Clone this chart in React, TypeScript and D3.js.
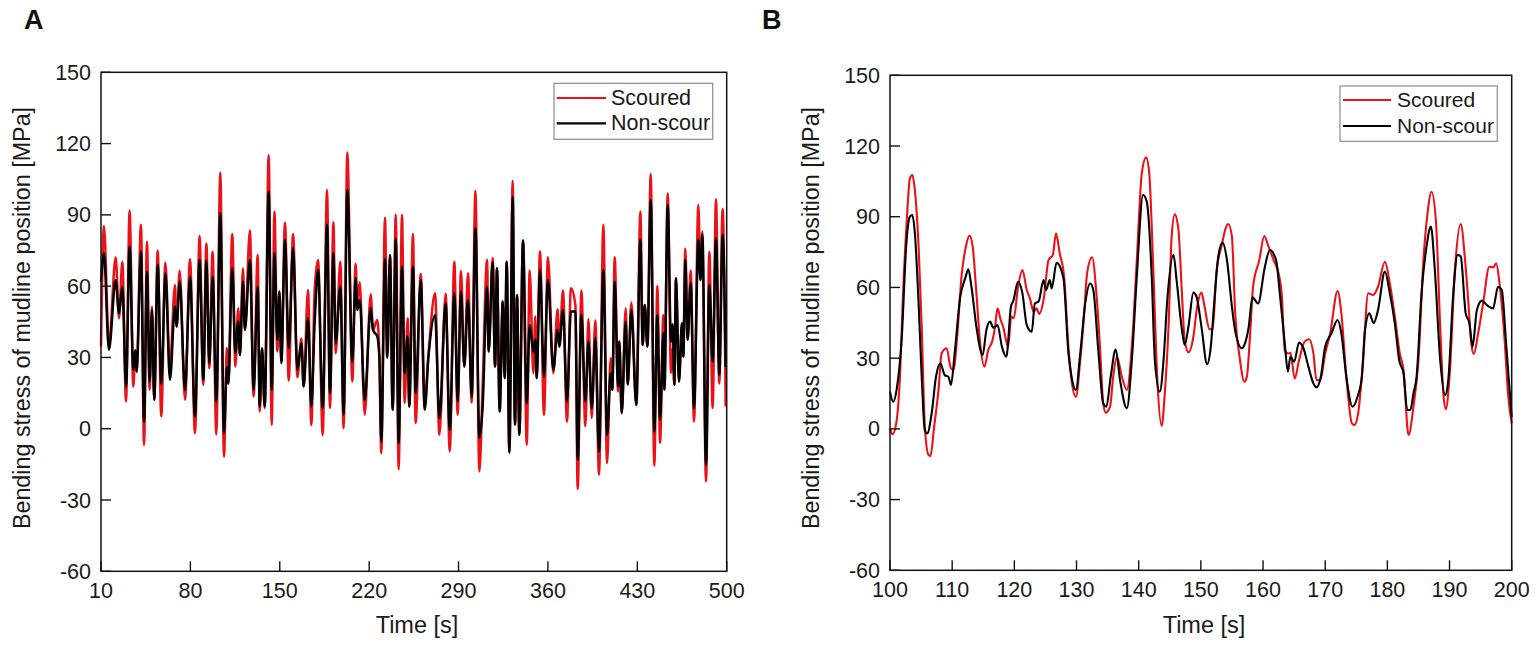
import React from "react";
import * as d3 from "d3";

const yTicks = [-60, -30, 0, 30, 60, 90, 120, 150];
const xTicksA = [10, 80, 150, 220, 290, 360, 430, 500];
const xTicksB = [100, 110, 120, 130, 140, 150, 160, 170, 180, 190, 200];
const seriesNames = ["Scoured", "Non-scour"];
const xTitle = "Time [s]";
const yTitle = "Bending stress of mudline position [MPa]";

const timeA = [10,12.3,16.2,21.5,24.1,26.7,29.6,32.4,35.3,36.9,37.9,41.3,43.7,46,48.1,49.9,51.7,54.4,57.2,60.4,64,67.9,69.2,71.6,75.8,79.7,83.6,87.2,90.1,92.5,94.8,97.4,100.3,103.4,106.3,108.6,109.7,112.8,115.2,117.5,118.8,121.2,122.7,126.6,129.5,132.7,134.3,136.1,138.2,141.3,143.7,145.8,148.1,149.7,151.2,154.1,157,160.4,163.8,166.9,168.7,172.1,174.7,177.3,180,183.6,187,189.3,192,193.8,197.4,200,202.9,206.8,209.4,210.7,212.6,216.5,221.2,223,226.4,228,229.5,232.4,234.2,236.3,238.4,240.8,243.1,245.7,247.8,250.1,251.4,254.3,256.4,260.4,263.5,266.4,271.6,275,279.9,283.1,286.7,289.3,291.9,294.5,297.4,300.3,303.2,306.3,308.9,312.3,313.6,316.7,318.6,320.1,322.2,324.6,326.1,327.7,329.8,332.4,334.2,335.8,337.6,340.5,343.4,345.7,348.6,350.1,351.2,353.8,356.9,360,364.2,367.6,368.9,371.8,374.9,378,381.5,383.3,386.2,389.3,391.7,394.3,397.1,400,403.4,406.3,409.1,410.4,412.3,414.9,415.9,417.8,420.9,422.5,425.3,429.2,432.4,434.2,435.8,437.9,440.5,443.3,445.7,447.8,450.4,451.2,453.8,456.4,457.7,459,460.3,462.6,465,466,467.6,469.4,471.8,474.4,477.8,479.4,480.9,483.8,486.4,489,491.6,494.2,496.8,499.2];
const scouredA = [34.6,85.3,35.3,72.2,46.5,70.3,11.5,91.8,17.8,33,24,85.8,-6.8,78.7,16.4,51.4,12.2,75,5.2,69.9,26.2,60.5,43,66.5,12.2,71.3,-1.9,81.1,18.5,78,25.5,74.5,-2.3,107.8,-11.7,33.9,19,82,26.2,50.7,31,67.5,41.6,83.4,13.6,73.1,7.3,33.9,8.7,115.2,1.6,91.4,32.5,57.7,29,86.7,20.3,82,21.7,38,17.8,58.4,1.6,58.4,71,-2.6,100.5,8.7,86.9,31.8,70.3,0.2,116.2,19.9,69.4,53,61.6,5.9,56.6,41.6,45.8,30,-10.3,88.8,30,73,8,90,-17,90,10.8,46.5,9.4,82,2.4,65.2,10.8,31,57,-2.5,56.8,-9.5,70.3,5.9,66.4,26.2,65.4,11,100.2,-18,18.5,71,32.5,71.8,26.2,67.5,7.3,53.5,21.3,70.3,-10,104.4,1.7,56.3,-2.5,79.2,-6.7,66.6,23.4,47.2,21.3,74.6,5.9,72.2,23.4,50.3,34.6,58.2,3,59.1,52,-25.4,58.2,1,46.2,4.5,45.5,-19.4,85.8,-14.5,29.7,16.4,72.2,15.7,36.7,6.6,50.7,18.5,53.1,10,91.4,35.3,52.1,34.6,107.2,-15.6,60.1,-6,47.9,16.4,99,23.4,34,18.5,63.3,19.9,44.4,30.4,75.7,37.4,66.6,3,94.2,62.6,83,-22.2,74.5,8.7,96.6,19,92.5,9.4];
const nonScourA = [62,73.8,33.2,62.6,48.6,59.8,17.8,76.6,24.8,33,24,74.5,3,66,19.9,50,12.2,69,19,65.4,20.6,51.4,43,61.9,16.4,64,5.2,71,20.6,70.8,27.6,64,11.5,90.7,-1.9,26,19,67.5,31.8,45.1,31,61.9,41.6,71,16.4,59.8,9.4,33.9,9.4,99.8,16.4,73.8,37.4,57.7,27.6,79.4,33.9,76,24.8,36,17.8,46.5,9.4,44.4,66.8,8.7,85.8,15,73.8,36,59.8,5.9,100.5,28.3,63.3,50,54.2,12.2,50.7,41.6,38.8,30,-5.4,71.3,30,73.1,8,80.1,-6,68.2,23.4,38.8,9.4,68.2,15,62.6,8,30,47.9,4.5,52.8,-0.4,57,11.5,57.7,26.2,54.2,13.6,84.4,-3.9,9.4,59.8,32.5,70,26.2,67.5,7.3,53.5,21.3,70.3,-10,97.7,1.7,56.3,-2.5,79.2,10.8,43.7,32.5,37.4,21.3,66.9,22,62.6,24.8,41.6,34.6,50,11.5,49.3,49.3,-13,47.9,11.5,36.7,8.7,38.1,-9.6,66.8,-2.5,23.4,16.4,61.9,17.8,36.7,6.6,45.1,18.5,50,10,79.5,35.3,52.1,34.6,96.3,-1.1,47.9,3.8,40.2,16.4,94.2,36.7,44,18.5,63.3,19.9,44.4,30.4,71,37.4,61.2,8.7,79.5,62.6,81.6,-15.2,60.5,28.3,80.2,22.7,81.6,26];

const timeBScoured = [100,100.4,101,101.6,102.1,102.7,103.2,103.6,104,104.6,105.1,105.6,106.2,106.5,107.1,107.8,108.3,109.1,109.8,110.2,110.8,111.5,112.2,112.8,113.3,113.9,114.5,115.2,115.8,116.5,116.9,117.3,117.8,118.2,119,119.5,119.9,120.6,121.3,122,122.5,123.1,123.6,124,124.7,125.5,126.2,126.7,127.3,128,128.7,129.2,129.9,130.6,131.2,131.7,132.5,133.2,133.8,134.3,134.7,135.4,135.9,136.5,137.3,138.1,138.9,139.7,140.5,141.2,141.7,142.3,143,143.7,144.2,144.8,145.3,145.8,146.4,146.9,147.4,148,148.8,149.4,150.1,150.6,151.4,151.9,152.5,153.3,154.4,155,155.5,156.3,157,157.4,157.9,158.4,159.4,160.2,160.8,161.7,162.5,163,163.5,164.1,164.4,165.1,165.8,166.7,167.4,168.1,168.6,169.2,170,170.8,172,172.6,173.4,174.3,174.7,175.3,176.1,176.9,177.7,178.5,179.6,180.4,181.2,182,182.6,183.4,184.2,185,185.8,186.4,187.1,187.8,188.5,189,189.4,190,190.9,191.8,192.5,193,193.5,193.9,194.6,195.4,196.4,197,197.5,198.1,198.9,199.4,200];
const scouredB = [0.2,-2.2,2.3,22.1,57.5,88.6,106.3,107.7,101.3,77.3,43.3,0.9,-11.1,-11.5,0.9,16.5,32,34.2,25.7,25,39.1,64.6,77.3,82,77.3,57.5,36.3,26.4,33.4,37.7,43.3,51.1,46.2,43.3,34.9,47.6,46.9,60.3,67.4,58.9,55.4,49.7,51.1,48.7,54.7,71.6,73.8,83,74.5,64.6,34.9,20.7,13.6,29.2,47.6,66,72.8,57.5,33.4,10.8,6.9,9.4,22.1,30.6,22.1,16.5,34.9,71.6,108.4,115.2,108.4,71.6,20.7,1.3,15.1,43.3,81.5,91,84.4,60.3,37.7,32.5,39.1,51.8,57.8,51.8,42.2,42.6,66,77.3,86.9,81.5,50.4,29.2,20,22.1,39.1,60.3,71.6,81.8,78,71.6,66,57.5,33.4,32,32.3,21.4,29.2,37,38,32,20.7,20.7,32,40.5,58.5,49,22.1,2.3,1.6,6.6,29.2,57.5,56.8,60.3,70.9,61.7,47.6,32,25,-2.6,9.4,29.2,71.6,90,100.6,88.6,43.3,15.1,8.3,22.1,68.8,86.9,71.6,54.7,36.3,31.8,40.5,53.2,68.8,68.5,70.2,60.3,36.3,15.1,2.3];
const timeBNonScour = [100,100.5,101.1,101.9,102.6,103.2,103.6,104,104.6,105.1,105.6,106,106.7,107.4,108.1,108.8,109.4,109.8,110.4,111.3,112.1,112.6,113.1,113.9,114.9,115.5,116.1,116.6,117.3,118,118.7,119.5,119.8,120.6,121.3,122,122.8,123.3,123.9,124.7,125.1,125.7,126,126.8,127.9,128.7,129.2,129.9,130.6,131.4,132.2,132.7,133.5,134.3,134.8,135.5,136.3,137,138.1,138.9,139.7,140.7,141.3,142.1,142.6,143.4,144,144.6,145.6,146.1,146.9,147.4,148,148.8,149.3,150.1,151,151.6,152.1,152.8,153.5,154.2,155,155.5,156.6,157.1,157.7,158.3,159.2,160.3,161.1,162.1,162.7,163.5,164,164.4,165,165.8,166.5,167.3,168.1,168.6,169.3,170,171,172,172.6,173.4,174.4,175.2,175.9,176.4,177.1,177.8,178.5,179.6,180.4,181.2,181.9,182.6,183.2,183.7,184.2,184.7,185.5,186.3,187,187.6,188.5,189.3,189.8,190.6,191.3,191.8,192.6,193.2,193.7,194.4,195.2,196,197,197.8,198.4,199.1,199.7,200];
const nonScourB = [15.8,11.5,17.2,39.1,77.3,90,90.7,83,53.2,22.1,-0.5,-1.9,6.6,22.1,27.8,22.8,22.1,18.6,32,56.1,63.9,67.7,60.3,43.3,31.3,41.9,45.5,42.9,44,34.9,30.6,52.5,54,62.4,57.5,44,41.2,53.2,54,63.1,58.9,63.1,59.6,70.5,63.9,32,22.1,16.5,32,53.2,61.7,58.9,33.4,10.8,9.4,22.1,33.7,20.7,8.7,29.2,64.6,99.2,96.4,64.6,29.2,15.8,29.2,54.7,73.8,63.1,43.3,35.6,43.3,57.8,56.1,43.3,27.5,34.9,51.8,73.1,79,71.6,51.8,41.9,34.2,36.3,43.3,55.8,53.2,68.8,75.9,71.6,57.5,36.3,24.3,30.6,28.5,36.6,34.2,26.4,19.3,17.6,22.1,34.9,40.5,46.2,40.5,22.1,9.4,13.6,22.1,41.9,49,44.8,50.4,66.7,57.5,44.8,29.2,23.5,8,8,15.1,22.1,57.5,77.3,85.8,68.8,29.2,14.4,20.7,57.5,73.8,73.1,49,44.8,34.9,50.4,54.4,52.5,51.1,60.3,58.9,36.3,15.1,5];

const RED = "#ec1118";
const FONT = "'Liberation Sans', Arial, sans-serif";

type PanelProps = {
  letter: string; letterX: number; letterY: number;
  x0: number; x1: number; yTop: number; yBottom: number;
  domain: [number, number]; xTicks: number[];
  redT: number[]; red: number[]; blackT: number[]; black: number[];
  lineW: number; titleX: number; xTitleCx: number; legendFont: number;
  legend: { x: number; y: number; w: number; h: number; lx0: number; lx1: number; ly0: number; ly1: number; tx: number };
};

function Panel(p: PanelProps) {
  const x = d3.scaleLinear().domain(p.domain).range([p.x0, p.x1]);
  const y = d3.scaleLinear().domain([-60, 150]).range([p.yBottom, p.yTop]);
  const mk = (ts: number[], vs: number[]) =>
    d3.line<number>().x((_, i) => x(ts[i])).y((v) => y(v)).curve(d3.curveMonotoneX)(vs) as string;
  const tickLen = 10;
  const L = p.legend;
  return (
    <g fontFamily={FONT} fill="#1a1a1a">
      <text x={p.letterX} y={p.letterY} fontSize={27} fontWeight="bold" fill="#111">{p.letter}</text>
      <path d={mk(p.redT, p.red)} fill="none" stroke={RED} strokeWidth={p.lineW} strokeLinejoin="round" />
      <path d={mk(p.blackT, p.black)} fill="none" stroke="#000" strokeWidth={p.lineW} strokeLinejoin="round" />
      <rect x={p.x0} y={p.yTop} width={p.x1 - p.x0} height={p.yBottom - p.yTop} fill="none" stroke="#111" strokeWidth={1.5} />
      {yTicks.map((t) => (
        <g key={t}>
          <line x1={p.x0} x2={p.x0 + tickLen} y1={y(t)} y2={y(t)} stroke="#111" strokeWidth={1.4} />
          <text x={p.x0 - 10} y={y(t) + 7.5} textAnchor="end" fontSize={21.5}>{t}</text>
        </g>
      ))}
      {p.xTicks.map((t) => (
        <g key={t}>
          <line x1={x(t)} x2={x(t)} y1={p.yBottom} y2={p.yBottom - tickLen} stroke="#111" strokeWidth={1.4} />
          <text x={x(t)} y={p.yBottom + 27} textAnchor="middle" fontSize={21.5}>{t}</text>
        </g>
      ))}
      <text x={p.xTitleCx} y={633} textAnchor="middle" fontSize={23.5}>{xTitle}</text>
      <text transform={`translate(${p.titleX},318) rotate(-90)`} textAnchor="middle" fontSize={23.3}>{yTitle}</text>
      <rect x={L.x} y={L.y} width={L.w} height={L.h} fill="#fff" stroke="#8c8c8c" strokeWidth={1.2} />
      <line x1={L.lx0} x2={L.lx1} y1={L.ly0} y2={L.ly0} stroke={RED} strokeWidth={2.2} />
      <line x1={L.lx0} x2={L.lx1} y1={L.ly1} y2={L.ly1} stroke="#000" strokeWidth={2.2} />
      <text x={L.tx} y={L.ly0 + 7} fontSize={p.legendFont}>{seriesNames[0]}</text>
      <text x={L.tx} y={L.ly1 + 7} fontSize={p.legendFont}>{seriesNames[1]}</text>
    </g>
  );
}

export default function App() {
  return (
    <svg width={1536} height={647} viewBox="0 0 1536 647"
      style={{ position: "absolute", left: 0, top: 0, display: "block", background: "#fff" }}>
      <Panel letter="A" letterX={24} letterY={29} x0={101} x1={726.7} yTop={72.3} yBottom={571.3}
        domain={[10, 500]} xTicks={xTicksA} redT={timeA} red={scouredA} blackT={timeA} black={nonScourA}
        lineW={2.5} titleX={30} xTitleCx={417} legendFont={21.5}
        legend={{ x: 554, y: 83.3, w: 158.7, h: 56, lx0: 556.7, lx1: 606, ly0: 98, ly1: 123.3, tx: 611 }} />
      <Panel letter="B" letterX={762} letterY={29} x0={890} x1={1511.7} yTop={75.3} yBottom={570.3}
        domain={[100, 200]} xTicks={xTicksB} redT={timeBScoured} red={scouredB} blackT={timeBNonScour} black={nonScourB}
        lineW={2.1} titleX={819} xTitleCx={1204} legendFont={21}
        legend={{ x: 1340, y: 86, w: 157.3, h: 55.3, lx0: 1343, lx1: 1391, ly0: 100, ly1: 126, tx: 1397 }} />
    </svg>
  );
}
